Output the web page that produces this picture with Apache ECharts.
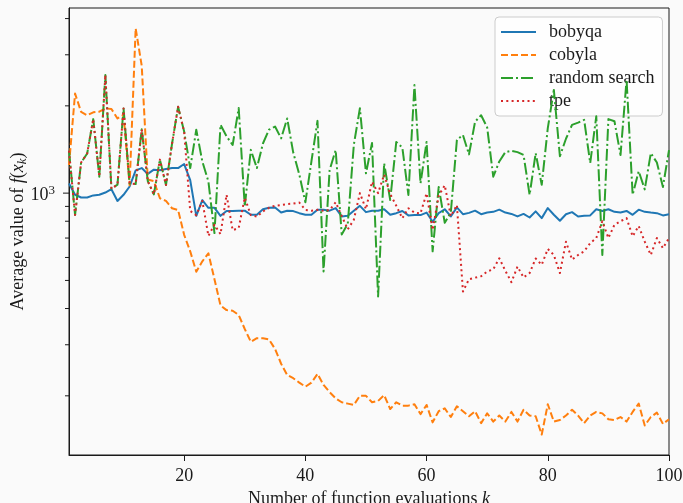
<!DOCTYPE html>
<html><head><meta charset="utf-8">
<script src="https://cdn.jsdelivr.net/npm/echarts@6/dist/echarts.min.js"></script>
<style>html,body{margin:0;padding:0;background:#fafafa}#c{width:683px;height:503px}</style>
</head><body><div id="c"></div>
<script>
const evaluations = [1,2,3,4,5,6,7,8,9,10,11,12,13,14,15,16,17,18,19,20,21,22,23,24,25,26,27,28,29,30,31,32,33,34,35,36,37,38,39,40,41,42,43,44,45,46,47,48,49,50,51,52,53,54,55,56,57,58,59,60,61,62,63,64,65,66,67,68,69,70,71,72,73,74,75,76,77,78,79,80,81,82,83,84,85,86,87,88,89,90,91,92,93,94,95,96,97,98,99,100];

const bobyqa = [1080,987,966,966,982,987,1005,1032,940,987,1054,1198,1220,1165,1205,1200,1212,1220,1220,1260,
1109,835,946,890,890,835,868,868,870,870,842,842,880,890,893,857,870,867,853,842,
842,877,877,870,888,831,835,869,904,860,870,870,880,842,853,868,838,840,840,857,
797,853,880,831,893,846,855,870,846,857,862,877,857,848,831,848,824,865,820,888,
842,803,846,860,831,835,838,880,868,880,862,857,868,842,877,862,857,853,838,846];

const cobyla = [1250,2205,1905,1855,1900,1910,1960,1950,1810,1860,1065,3700,2750,1115,1100,960,940,887,875,718,
630,536,582,620,505,410,395,393,380,340,307,316,316,313,290,258,236,230,222,215,
222,238,218,206,196,190,188,186,200,200,190,192,201,180,190,185,185,187,173,186,
162,177,181,169,184,177,170,177,161,174,163,171,163,176,163,179,171,170,147,187,
163,165,171,179,171,161,171,176,174,166,165,169,163,176,188,158,169,175,160,166];

const randomSearch = [1400,841,1275,1370,1800,1140,2555,1035,1070,1960,1080,1075,1660,1100,990,1305,1066,1480,1985,1630,
1220,1655,1286,1097,728,1720,1570,1465,1965,900,1410,1220,1483,1655,1697,1545,1810,1380,1160,930,
1286,1775,537,1200,1408,720,785,1470,1962,1170,1490,440,1268,947,1502,1437,986,2358,1080,1502,
630,1050,790,858,1525,1586,1360,1762,1857,1685,1140,1286,1385,1400,1385,1355,986,1374,1068,1675,
2270,1340,1540,1720,1750,1790,1270,1840,612,1800,1770,1353,2460,987,1190,1030,1374,1275,1050,1408];

const tpe = [1400,841,1275,1370,1800,1140,2555,1035,1070,1960,1080,1075,1660,1100,990,1305,1066,1480,1985,1630,
868,840,940,712,778,722,987,745,758,965,840,830,865,890,905,910,917,920,928,875,
870,876,870,874,930,835,750,810,1000,880,1095,1000,1158,993,905,819,887,857,851,999,
746,980,1064,833,910,458,505,511,517,537,546,596,540,493,558,512,530,595,566,642,
612,530,680,590,612,630,672,700,800,700,778,800,820,710,770,680,612,700,646,700];

const seriesNames = ['bobyqa', 'cobyla', 'random search', 'tpe'];
const seriesColors = ['#1f77b4', '#ff7f0e', '#2ca02c', '#d62728'];
const seriesDashes = ['solid', [7, 3], [12, 3, 2, 3], [2, 3.3]];
const seriesValues = [bobyqa, cobyla, randomSearch, tpe];

const xTicks = [20, 40, 60, 80, 100];
const yMajorTicks = [1000];
const yMajorLabels = ['10{sup|3}'];
const yMinorTicks = [200, 300, 400, 500, 600, 700, 800, 900, 2000, 3000, 4000];

const X_MIN = 1, X_MAX = 100, Y_MIN = 125, Y_MAX = 4350;
const FONT = "'Liberation Serif', 'DejaVu Serif', serif";
const INK = '#1a1a1a';
const FS = 18;

const tickData = yMinorTicks.map(v => [X_MIN, v, 0, -1])
  .concat(yMajorTicks.map((v, i) => [X_MIN, v, 1, i]));

const chart = echarts.init(document.getElementById('c'), null, {renderer: 'canvas'});

const lineSeries = seriesNames.map((name, i) => ({
  type: 'line',
  name: name,
  data: evaluations.map((k, j) => [k, seriesValues[i][j]]),
  symbol: 'none',
  showSymbol: false,
  z: 2 + i,
  itemStyle: {color: seriesColors[i]},
  lineStyle: {color: seriesColors[i], width: 2, type: seriesDashes[i], join: 'round'}
}));

const option = {
  backgroundColor: '#fafafa',
  animation: false,
  textStyle: {fontFamily: FONT},
  grid: {left: 69, right: 14, top: 8, bottom: 48, show: true, borderColor: INK, borderWidth: 1,
    backgroundColor: 'transparent', containLabel: false, outerBoundsMode: 'none'},
  xAxis: {
    type: 'value', min: X_MIN, max: X_MAX,
    name: 'Number of function evaluations {i|k}',
    nameLocation: 'middle', nameGap: 32,
    nameTextStyle: {fontFamily: FONT, fontSize: FS, color: INK,
      rich: {i: {fontStyle: 'italic', fontFamily: FONT, fontSize: FS, color: INK}}},
    axisLine: {show: true, lineStyle: {color: INK, width: 1}},
    axisTick: {show: true, length: 6, customValues: xTicks, lineStyle: {color: INK, width: 1}},
    axisLabel: {customValues: xTicks, margin: 12, fontSize: FS, color: INK, fontFamily: FONT},
    splitLine: {show: false}
  },
  yAxis: {
    type: 'log', logBase: 10, min: Y_MIN, max: Y_MAX,
    name: 'Average value of {i|f}({i|x}{sub|k})',
    nameLocation: 'middle', nameGap: 40,
    nameTextStyle: {fontFamily: FONT, fontSize: FS, color: INK,
      rich: {
        i: {fontStyle: 'italic', fontFamily: FONT, fontSize: FS, color: INK},
        sub: {fontStyle: 'italic', fontFamily: FONT, fontSize: 13, color: INK, padding: [8, 0, 0, 0]}
      }},
    axisLine: {show: true, lineStyle: {color: INK, width: 1}},
    axisTick: {show: false},
    axisLabel: {show: false},
    splitLine: {show: false}
  },
  legend: {
    orient: 'vertical', left: 495, top: 17,
    itemWidth: 35, itemHeight: 14, itemGap: 5,
    padding: [6, 8, 6, 5],
    backgroundColor: 'rgba(255,255,255,0.8)',
    borderColor: '#cccccc', borderWidth: 1, borderRadius: 4,
    itemStyle: {opacity: 0},
    textStyle: {fontFamily: FONT, fontSize: FS, color: INK, lineHeight: 18, padding: [0, 0, 0, 8]},
    data: seriesNames
  },
  series: lineSeries.concat([{
    type: 'custom',
    name: 'y ticks',
    silent: true,
    clip: false,
    z: 10,
    data: tickData,
    renderItem: function (params, api) {
      const v = api.value(1);
      const major = api.value(2);
      const li = api.value(3);
      const p = api.coord([X_MIN, v]);
      const len = major ? 6 : 4;
      const children = [{
        type: 'line',
        shape: {x1: p[0] - len, y1: p[1], x2: p[0], y2: p[1]},
        style: {stroke: INK, lineWidth: 1}
      }];
      if (major) {
        children.push({
          type: 'text', x: p[0] - 14, y: p[1] + 2,
          style: {
            text: yMajorLabels[li], fill: INK, fontFamily: FONT, fontSize: FS,
            align: 'right', verticalAlign: 'middle',
            rich: {sup: {fontFamily: FONT, fontSize: 13, fill: INK, padding: [0, 0, 10, 0]}}
          }
        });
      }
      return {type: 'group', children: children};
    }
  }])
};
chart.setOption(option);
</script>
</body></html>
